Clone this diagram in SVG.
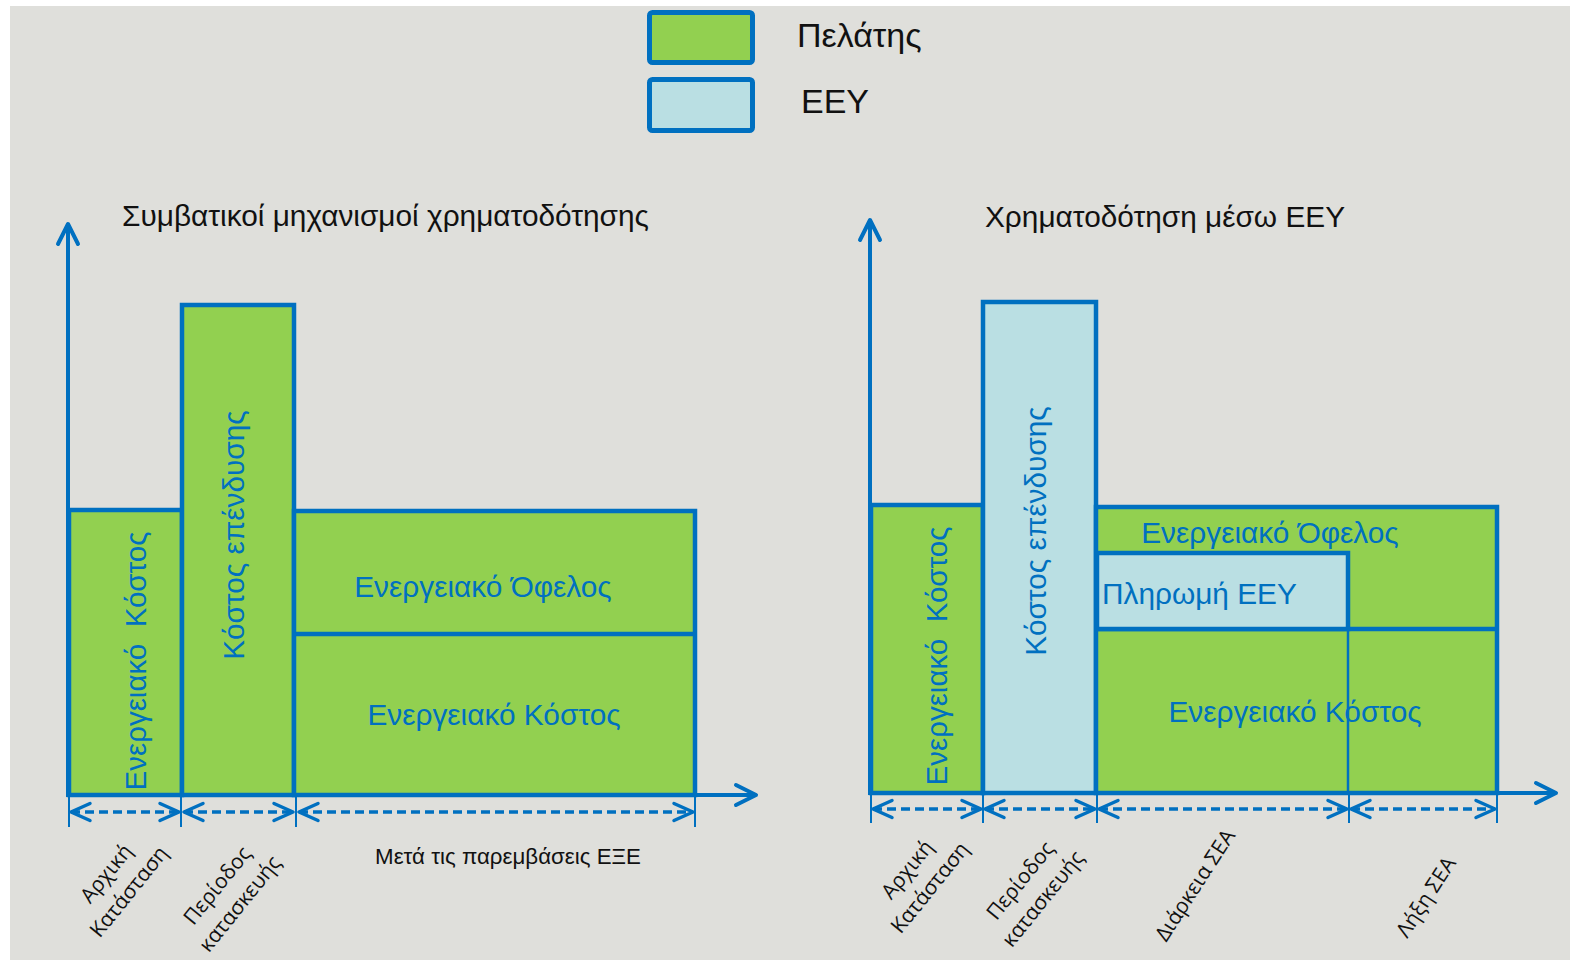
<svg xmlns="http://www.w3.org/2000/svg" width="1570" height="960" viewBox="0 0 1570 960">
<style>
.bg{fill:#dfdfdb}
.bar{stroke:#0070C0;stroke-width:4.5;stroke-linejoin:miter}
.g{fill:#92D050}
.lb{fill:#BADFE3}
.ln{stroke:#0070C0;stroke-width:4.5;fill:none}
.thin{stroke:#0070C0;stroke-width:2.5;fill:none}
.axis{stroke:#0070C0;stroke-width:4;fill:none;marker-end:url(#ax)}
.dim{stroke:#0070C0;stroke-width:3.5;fill:none;stroke-dasharray:9 5;marker-start:url(#da);marker-end:url(#da)}
.tick{stroke:#0070C0;stroke-width:2;fill:none}
.title{font-family:"Liberation Sans",Arial,sans-serif;font-size:29.8px;fill:#111}
.leg{font-family:"Liberation Sans",Arial,sans-serif;font-size:34px;fill:#111}
.bt{font-family:"Liberation Sans",Arial,sans-serif;font-size:29.8px;fill:#0070C0}
.rt{font-size:29.5px}
.lab{font-family:"Open Sans","Liberation Sans",sans-serif;font-size:21px;fill:#111}
.sub{font-family:"Liberation Sans",Arial,sans-serif;font-size:22.3px;fill:#111}
</style>
<defs>
<marker id="ax" markerUnits="userSpaceOnUse" viewBox="-24 -14 28 28" refX="0" refY="0" markerWidth="28" markerHeight="28" orient="auto" overflow="visible">
<path d="M-20,-10 L0,0 L-20,10" fill="none" stroke="#0070C0" stroke-width="4" stroke-linecap="round" stroke-linejoin="round"/>
</marker>
<marker id="da" markerUnits="userSpaceOnUse" viewBox="-24 -12 28 24" refX="0" refY="0" markerWidth="28" markerHeight="24" orient="auto-start-reverse" overflow="visible">
<path d="M-19,-8.5 L0,0 L-19,8.5" fill="none" stroke="#0070C0" stroke-width="3.5" stroke-linecap="round" stroke-linejoin="round"/>
</marker>
</defs>
<rect x="0" y="0" width="1570" height="960" fill="#ffffff"/>
<rect class="bg" x="10" y="6" width="1560" height="954"/>

<g id="legend">
<g id="legend-client">
<rect x="649.5" y="12.5" width="103" height="50" rx="3" class="bar g" style="stroke-width:5"/>
<text class="leg" x="797" y="47">Πελάτης</text>
</g>
<g id="legend-eey">
<rect x="649.5" y="79.5" width="103" height="51" rx="3" class="bar lb" style="stroke-width:5"/>
<text class="leg" x="801" y="113">ΕΕΥ</text>
</g>
</g>

<g id="left-chart">
<text id="left-title" class="title" x="122" y="226">Συμβατικοί μηχανισμοί χρηματοδότησης</text>
<g id="left-bar1">
<rect x="69" y="510" width="113" height="285" class="bar g"/>
<text class="bt rt" transform="translate(146,661) rotate(-90)" text-anchor="middle">Ενεργειακό&#160; Κόστος</text>
</g>
<g id="left-bar2">
<rect x="182" y="305" width="112" height="490" class="bar g"/>
<text class="bt" transform="translate(244,535) rotate(-90)" text-anchor="middle">Κόστος επένδυσης</text>
</g>
<g id="left-bar3">
<rect x="294" y="511" width="401" height="284" class="bar g"/>
<line x1="294" y1="634" x2="695" y2="634" class="ln"/>
<text class="bt" x="483" y="597" text-anchor="middle">Ενεργειακό Όφελος</text>
<text class="bt" x="494" y="725" text-anchor="middle">Ενεργειακό Κόστος</text>
</g>
<g id="left-labels">
<text class="lab" transform="translate(118,883) rotate(-51)" text-anchor="middle"><tspan x="0" y="-8">Αρχική</tspan><tspan x="0" y="21">Κατάσταση</tspan></text>
<text class="lab" transform="translate(229,895) rotate(-51)" text-anchor="middle"><tspan x="0" y="-8">Περίοδος</tspan><tspan x="0" y="21">κατασκευής</tspan></text>
<text class="sub" x="508" y="864" text-anchor="middle">Μετά τις παρεμβάσεις ΕΞΕ</text>
</g>
</g>

<g id="right-chart">
<text id="right-title" class="title" x="985" y="227">Χρηματοδότηση μέσω ΕΕΥ</text>
<g id="right-bar1">
<rect x="871" y="505" width="112" height="288" class="bar g"/>
<text class="bt rt" transform="translate(947,656) rotate(-90)" text-anchor="middle">Ενεργειακό&#160; Κόστος</text>
</g>
<g id="right-bar2">
<rect x="983" y="302" width="113" height="491" class="bar lb"/>
<text class="bt" transform="translate(1046,531) rotate(-90)" text-anchor="middle">Κόστος επένδυσης</text>
</g>
<g id="right-bar3">
<rect x="1096" y="507" width="401" height="286" class="bar g"/>
<line x1="1096" y1="629" x2="1497" y2="629" class="ln"/>
<text class="bt" x="1270" y="543" text-anchor="middle">Ενεργειακό Όφελος</text>
<text class="bt" x="1295" y="722" text-anchor="middle">Ενεργειακό Κόστος</text>
</g>
<g id="right-payment">
<rect x="1097" y="553" width="251" height="76" class="bar lb"/>
<text class="bt" x="1102" y="604">Πληρωμή ΕΕΥ</text>
</g>
<line x1="1348" y1="629" x2="1348" y2="793" class="thin"/>
<g id="right-labels">
<text class="lab" transform="translate(919,879) rotate(-51)" text-anchor="middle"><tspan x="0" y="-8">Αρχική</tspan><tspan x="0" y="21">Κατάσταση</tspan></text>
<text class="lab" transform="translate(1032,890) rotate(-51)" text-anchor="middle"><tspan x="0" y="-8">Περίοδος</tspan><tspan x="0" y="21">κατασκευής</tspan></text>
<text class="lab" transform="translate(1201,889) rotate(-57)" text-anchor="middle">Διάρκεια ΣΕΑ</text>
<text class="lab" transform="translate(1432,901) rotate(-57)" text-anchor="middle">Λήξη ΣΕΑ</text>
</g>
</g>

<g id="connectors">
<line x1="68" y1="797" x2="68" y2="224" class="axis"/>
<line x1="66" y1="795" x2="756" y2="795" class="axis"/>
<line x1="69" y1="797" x2="69" y2="827" class="tick"/>
<line x1="181" y1="797" x2="181" y2="827" class="tick"/>
<line x1="296" y1="797" x2="296" y2="827" class="tick"/>
<line x1="695" y1="797" x2="695" y2="827" class="tick"/>
<line x1="71" y1="812" x2="179" y2="812" class="dim"/>
<line x1="184" y1="812" x2="293" y2="812" class="dim"/>
<line x1="299" y1="812" x2="693" y2="812" class="dim"/>

<line x1="870" y1="795" x2="870" y2="220" class="axis"/>
<line x1="868" y1="793" x2="1556" y2="793" class="axis"/>
<line x1="871" y1="795" x2="871" y2="823" class="tick"/>
<line x1="983" y1="795" x2="983" y2="823" class="tick"/>
<line x1="1097" y1="795" x2="1097" y2="823" class="tick"/>
<line x1="1349" y1="795" x2="1349" y2="823" class="tick"/>
<line x1="1497" y1="795" x2="1497" y2="823" class="tick"/>
<line x1="873" y1="809" x2="981" y2="809" class="dim"/>
<line x1="985" y1="809" x2="1095" y2="809" class="dim"/>
<line x1="1099" y1="809" x2="1347" y2="809" class="dim"/>
<line x1="1351" y1="809" x2="1495" y2="809" class="dim"/>
</g>
</svg>
